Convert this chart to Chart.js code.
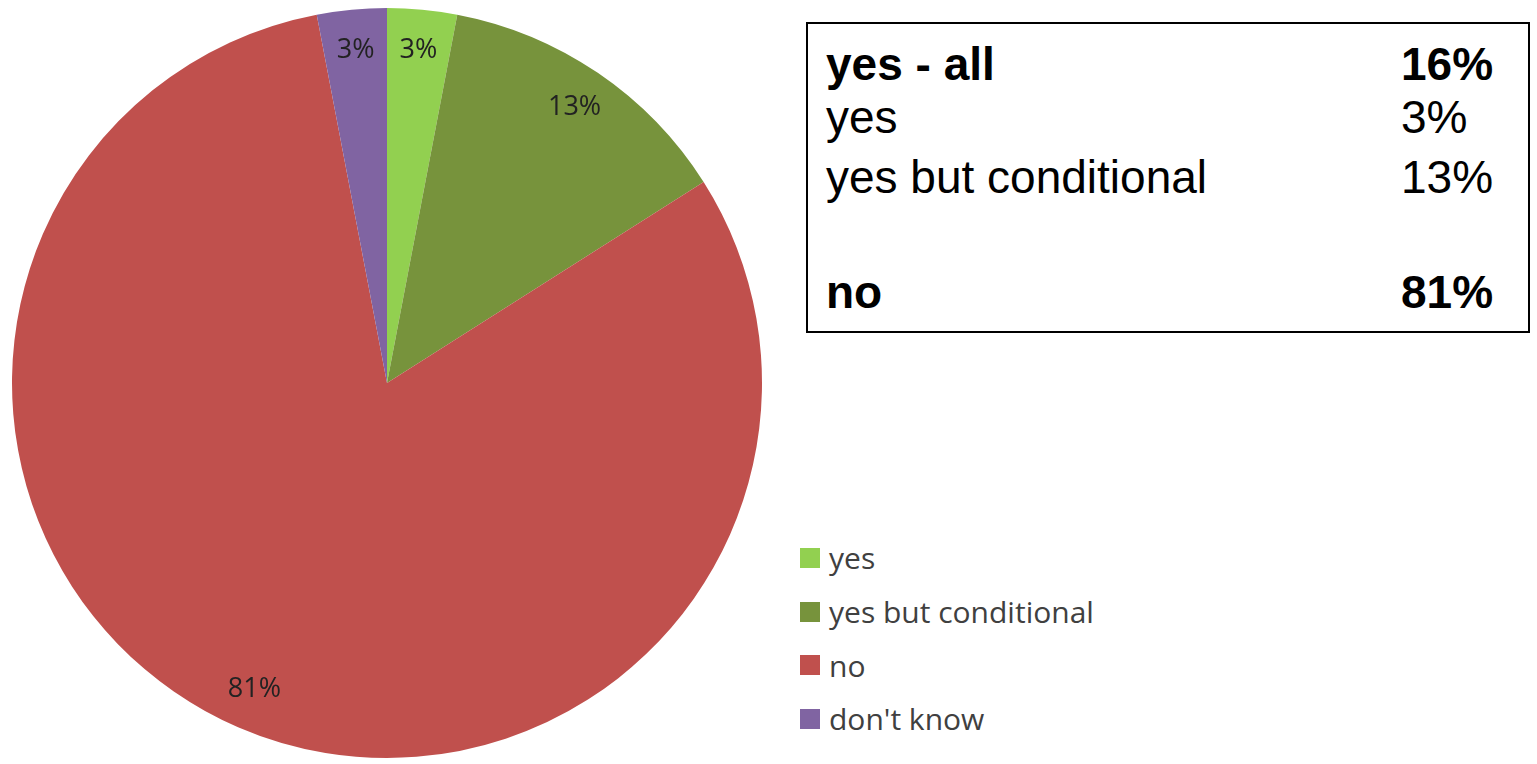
<!DOCTYPE html>
<html>
<head>
<meta charset="utf-8">
<script src="https://cdn.jsdelivr.net/npm/chart.js@4.4.1/dist/chart.umd.min.js"></script>
<style>
  html, body { margin: 0; padding: 0; background: #fff; }
  body { width: 1537px; height: 764px; position: relative; overflow: hidden; }
  #pieWrap { position: absolute; left: 0; top: 0; width: 775px; height: 764px; }
  #legend { position: absolute; left: 800px; top: 531px; font-family: "Open Sans", sans-serif; font-size: 30px; color: #404040; }
  #legend .row { height: 53.7px; display: flex; align-items: center; position: relative; }
  #legend .box { width: 20px; height: 20px; margin-right: 9px; }
  #summary { position: absolute; left: 806px; top: 22px; width: 720px; height: 307px; border: 2px solid #000; font-family: "Liberation Sans", Arial, sans-serif; font-size: 46px; color: #000; }
  #summary .line { position: absolute; left: 18px; right: 0; height: 57px; line-height: 57px; white-space: nowrap; }
  #summary .pct { position: absolute; left: 575px; }
  #summary .bold { font-weight: bold; }
</style>
</head>
<body>
<div id="pieWrap"><canvas id="pie"></canvas></div>
<div id="legend"></div>
<div id="summary"></div>
<script>
// answers and their share of responses (%)
const answers = ['yes', 'yes but conditional', 'no', "don't know"];
const shares = [3, 13, 81, 3];
const sliceColors = ['#92D050', '#77933C', '#C0504D', '#8064A2'];

// summary box rows
const summaryLabels = ['yes - all', 'yes', 'yes but conditional', 'no'];
const summaryValues = ['16%', '3%', '13%', '81%'];
const summaryBold = [true, false, false, true];
const summaryBaselines = [80, 133, 193, 308];

// percent text on each slice
const sliceLabels = {
    id: 'sliceLabels',
    afterDatasetsDraw(chart) {
        const ctx = chart.ctx;
        const meta = chart.getDatasetMeta(0);
        ctx.save();
        ctx.font = '27px "Open Sans", sans-serif';
        ctx.fillStyle = '#222';
        ctx.textAlign = 'center';
        ctx.textBaseline = 'middle';
        meta.data.forEach(function (arc, i) {
            const mid = (arc.startAngle + arc.endAngle) / 2;
            const r = arc.outerRadius * 0.89;
            ctx.fillText(shares[i] + '%', arc.x + Math.cos(mid) * r, arc.y + Math.sin(mid) * r);
        });
        ctx.restore();
    }
};

const chart = new Chart(document.getElementById('pie'), {
    type: 'pie',
    data: {
        labels: answers,
        datasets: [{
            data: shares,
            backgroundColor: sliceColors,
            borderWidth: 0
        }]
    },
    options: {
        responsive: true,
        maintainAspectRatio: false,
        animation: false,
        layout: { padding: { left: 12, right: 13, top: 8, bottom: 6 } },
        plugins: {
            legend: { display: false },
            tooltip: { enabled: false }
        }
    },
    plugins: [sliceLabels]
});

// legend built from the chart's own labels and colours
const legend = document.getElementById('legend');
chart.data.labels.forEach(function (label, i) {
    const row = document.createElement('div');
    row.className = 'row';
    const box = document.createElement('span');
    box.className = 'box';
    box.style.background = chart.data.datasets[0].backgroundColor[i];
    const text = document.createElement('span');
    text.textContent = label;
    row.appendChild(box);
    row.appendChild(text);
    legend.appendChild(row);
});

// summary box
const summary = document.getElementById('summary');
summaryLabels.forEach(function (label, i) {
    const line = document.createElement('div');
    line.className = 'line' + (summaryBold[i] ? ' bold' : '');
    line.style.top = (summaryBaselines[i] - 22 - 2 - 44) + 'px';
    const name = document.createElement('span');
    name.textContent = label;
    const pct = document.createElement('span');
    pct.className = 'pct';
    pct.textContent = summaryValues[i];
    line.appendChild(name);
    line.appendChild(pct);
    summary.appendChild(line);
});
</script>
</body>
</html>
